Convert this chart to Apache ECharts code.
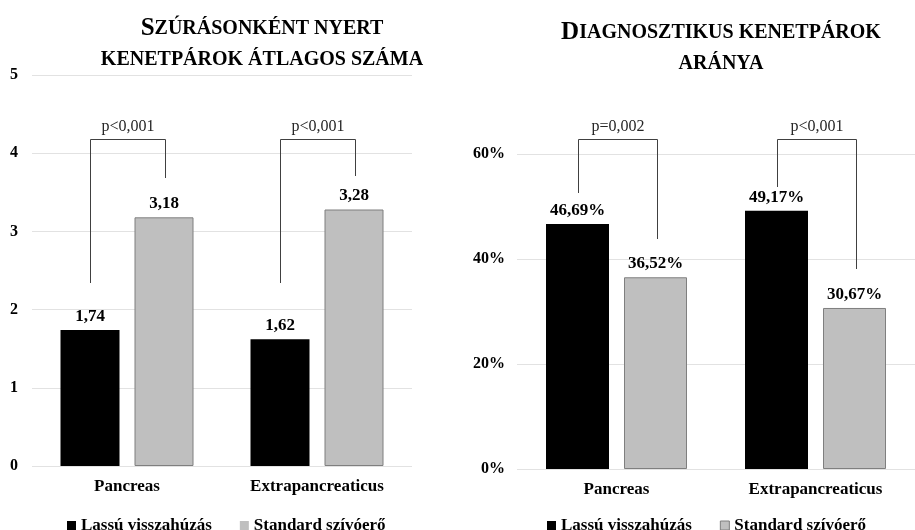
<!DOCTYPE html>
<html>
<head>
<meta charset="utf-8">
<script src="https://cdn.jsdelivr.net/npm/echarts@6/dist/echarts.min.js"></script>
<style>
  html, body { margin: 0; padding: 0; background: #ffffff; }
  #chart { width: 915px; height: 530px; }
</style>
</head>
<body>
<div id="chart"></div>
<script>
// Categories and series shared by both panels
const categories = ['Pancreas', 'Extrapancreaticus'];
const seriesNames = ['Lassú visszahúzás', 'Standard szívóerő'];

// Panel 1: mean smear pairs per pass
const countSlow = [1.74, 1.62];
const countStandard = [3.18, 3.28];
const countAxisMax = 5;
const countAxisStep = 1;
const countPValues = ['p<0,001', 'p<0,001'];
// bracket levels in axis units: [top, left leg end, right leg end]
const countBrackets = [[4.18, 2.34, 3.68], [4.18, 2.34, 3.71]];

// Panel 2: share of diagnostic smear pairs (%)
const ratioSlow = [46.69, 49.17];
const ratioStandard = [36.52, 30.67];
const ratioAxisMax = 60;
const ratioAxisStep = 20;
const ratioPValues = ['p=0,002', 'p<0,001'];
const ratioBrackets = [[62.86, 52.57, 43.8], [62.86, 53.7, 38.1]];

const FONT = '"Liberation Serif", "Times New Roman", serif';
const BLACK = '#000000';
const GREY = '#bfbfbf';
const GREY_EDGE = '#7f7f7f';
const GRID_LINE = '#e2e2e2';

const comma = v => v.toFixed(2).replace('.', ',');

function bracketRenderer(pLabels, barW, gap) {
  return function (params, api) {
    const idx = api.value(0);
    const top = api.coord([idx, api.value(1)]);
    const yL = Math.round(api.coord([idx, api.value(2)])[1]);
    const yR = Math.round(api.coord([idx, api.value(3)])[1]);
    const off = (barW + gap) / 2;
    const xL = Math.round(top[0] - off) + 0.5;
    const xR = Math.round(top[0] + off) + 1.5;
    const yT = Math.round(top[1]) + 0.5;
    return {
      type: 'group',
      children: [
        {
          type: 'polyline',
          shape: { points: [[xL, yL], [xL, yT], [xR, yT], [xR, yR]] },
          style: { stroke: '#404040', lineWidth: 1, fill: null }
        },
        {
          type: 'text',
          style: {
            text: pLabels[params.dataIndex],
            x: (xL + xR) / 2,
            y: yT - 5,
            align: 'center',
            verticalAlign: 'bottom',
            font: '16px ' + FONT,
            fill: '#262626'
          }
        }
      ]
    };
  };
}

function bracketData(levels) {
  return levels.map((l, i) => [i, l[0], l[1], l[2]]);
}

function barLabel(fmt) {
  return {
    show: true,
    position: 'top',
    distance: 5,
    fontFamily: FONT,
    fontWeight: 'bold',
    fontSize: 17,
    color: '#000',
    formatter: p => fmt(p.value)
  };
}

const titleRich = {
  b: { fontFamily: FONT, fontWeight: 'bold', fontSize: 25, lineHeight: 31, color: '#000' },
  s: { fontFamily: FONT, fontWeight: 'bold', fontSize: 20, lineHeight: 31, color: '#000' }
};

const axisLabelStyle = { fontFamily: FONT, fontWeight: 'bold', fontSize: 16, color: '#000' };
const legendText = { fontFamily: FONT, fontWeight: 'bold', fontSize: 17, color: '#000' };

const COUNT_BAR_W = 59, COUNT_GAP = 15;
const RATIO_BAR_W = 63, RATIO_GAP = 15;

const option = {
  animation: false,
  backgroundColor: '#ffffff',
  title: [
    {
      text: '{b|S}{s|ZÚRÁSONKÉNT NYERT}\n{s|KENETPÁROK ÁTLAGOS SZÁMA}',
      left: 257, top: 8, textAlign: 'center',
      textStyle: { rich: titleRich, fontSize: 20, fontFamily: FONT, fontWeight: 'bold', lineHeight: 31 }
    },
    {
      text: '{b|D}{s|IAGNOSZTIKUS KENETPÁROK}\n{s|ARÁNYA}',
      left: 716, top: 12, textAlign: 'center',
      textStyle: { rich: titleRich, fontSize: 20, fontFamily: FONT, fontWeight: 'bold', lineHeight: 31 }
    }
  ],
  legend: [
    {
      left: 62, top: 512, itemWidth: 9, itemHeight: 9, itemGap: 28, icon: 'rect',
      selectedMode: false,
      data: [
        { name: seriesNames[0], itemStyle: { borderWidth: 0 } },
        { name: seriesNames[1], itemStyle: { borderWidth: 0 } }
      ],
      textStyle: legendText
    },
    {
      left: 542, top: 512, itemWidth: 9, itemHeight: 9, itemGap: 28, icon: 'rect',
      selectedMode: false,
      data: [
        { name: seriesNames[0], itemStyle: { borderWidth: 0 } },
        { name: seriesNames[1], itemStyle: { borderColor: GREY_EDGE, borderWidth: 1 } }
      ],
      textStyle: legendText
    }
  ],
  grid: [
    { left: 32, top: 75, width: 380, height: 391 },
    { left: 517, top: 154, width: 408, height: 315 }
  ],
  xAxis: [0, 1].map(g => ({
    type: 'category',
    gridIndex: g,
    data: categories,
    axisLine: { show: false },
    axisTick: { show: false },
    axisLabel: Object.assign({ margin: 12 }, axisLabelStyle, { fontSize: 17 })
  })),
  yAxis: [
    {
      type: 'value', gridIndex: 0, min: 0, max: countAxisMax, interval: countAxisStep,
      axisLine: { show: false }, axisTick: { show: false },
      splitLine: { lineStyle: { color: GRID_LINE, width: 1 } },
      axisLabel: Object.assign({ margin: 14 }, axisLabelStyle)
    },
    {
      type: 'value', gridIndex: 1, min: 0, max: ratioAxisMax, interval: ratioAxisStep,
      axisLine: { show: false }, axisTick: { show: false },
      splitLine: { lineStyle: { color: GRID_LINE, width: 1 } },
      axisLabel: Object.assign({ margin: 12, formatter: '{value}%' }, axisLabelStyle)
    }
  ],
  series: [
    {
      name: seriesNames[0], type: 'bar', xAxisIndex: 0, yAxisIndex: 0,
      data: countSlow, barWidth: COUNT_BAR_W, barGap: (COUNT_GAP / COUNT_BAR_W * 100) + '%',
      itemStyle: { color: BLACK },
      label: barLabel(comma)
    },
    {
      name: seriesNames[1], type: 'bar', xAxisIndex: 0, yAxisIndex: 0,
      data: countStandard, barWidth: COUNT_BAR_W,
      itemStyle: { color: GREY, borderColor: GREY_EDGE, borderWidth: 1 },
      label: barLabel(comma)
    },
    {
      name: seriesNames[0], type: 'bar', xAxisIndex: 1, yAxisIndex: 1,
      data: ratioSlow, barWidth: RATIO_BAR_W, barGap: (RATIO_GAP / RATIO_BAR_W * 100) + '%',
      itemStyle: { color: BLACK },
      label: barLabel(v => comma(v) + '%')
    },
    {
      name: seriesNames[1], type: 'bar', xAxisIndex: 1, yAxisIndex: 1,
      data: ratioStandard, barWidth: RATIO_BAR_W,
      itemStyle: { color: GREY, borderColor: GREY_EDGE, borderWidth: 1 },
      label: barLabel(v => comma(v) + '%')
    },
    {
      type: 'custom', xAxisIndex: 0, yAxisIndex: 0, clip: false, silent: true,
      renderItem: bracketRenderer(countPValues, COUNT_BAR_W, COUNT_GAP),
      data: bracketData(countBrackets), z: 5
    },
    {
      type: 'custom', xAxisIndex: 1, yAxisIndex: 1, clip: false, silent: true,
      renderItem: bracketRenderer(ratioPValues, RATIO_BAR_W, RATIO_GAP),
      data: bracketData(ratioBrackets), z: 5
    }
  ]
};

const chart = echarts.init(document.getElementById('chart'), null, { renderer: 'canvas' });
chart.setOption(option);
</script>
</body>
</html>
